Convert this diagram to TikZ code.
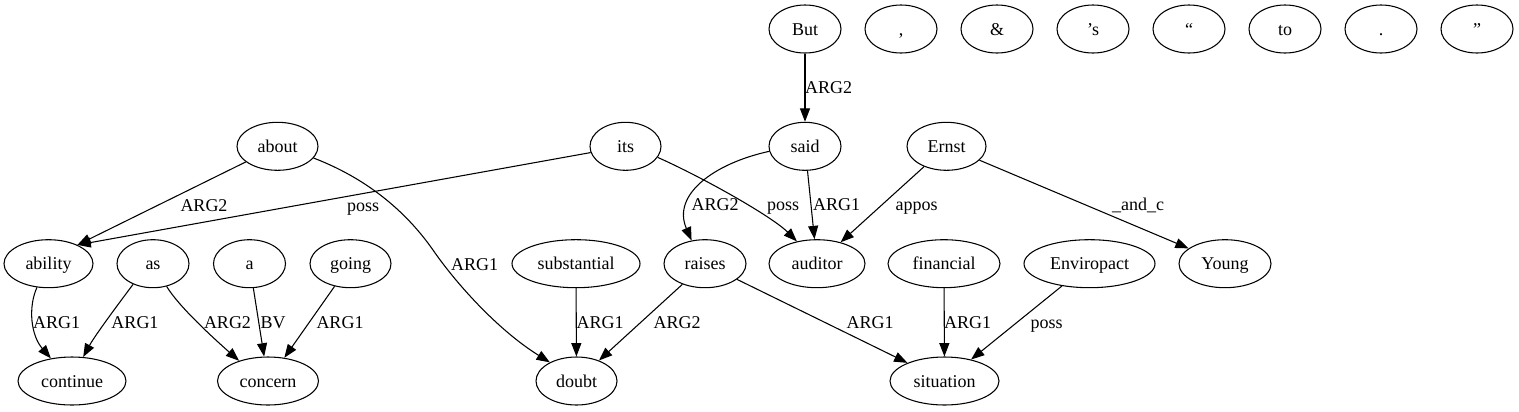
\documentclass[tikz,border=0pt]{standalone}
\usepackage{fontspec}
\setmainfont{Liberation Serif}
\usetikzlibrary{arrows.meta,shapes.geometric}
\begin{document}
\begin{tikzpicture}[x=0.75pt,y=-0.75pt,
  nd/.style={draw,ellipse,line width=0.8pt,inner sep=0pt,minimum height=36pt,
    text height=9pt,text depth=0pt,font=\fontsize{13.5}{16}\selectfont},
  wd/.style={minimum width=#1*0.75pt},
  lbl/.style={anchor=base,inner sep=0pt,font=\fontsize{13.5}{16}\selectfont},
  e/.style={draw,line width=0.8pt,-{Triangle[length=10pt,width=7.5pt]}}]
\fill[white] (0,0) rectangle (1519,411);
% row 1
\node[nd,wd=72] (But) at (805,29) {But};
\node[nd,wd=72] (comma) at (901,29) {,};
\node[nd,wd=72] (amp) at (997,29) {\&};
\node[nd,wd=72] (poss) at (1093,29) {’s};
\node[nd,wd=72] (lq) at (1189,29) {“};
\node[nd,wd=72] (to) at (1285,29) {to};
\node[nd,wd=72] (dot) at (1381,29) {.};
\node[nd,wd=72] (rq) at (1477,29) {”};
% row 2
\node[nd,wd=81] (about) at (277.5,146.3) {about};
\node[nd,wd=71] (its) at (625.5,146.3) {its};
\node[nd,wd=72] (said) at (805,146.3) {said};
\node[nd,wd=79] (Ernst) at (946.5,146.3) {Ernst};
% row 3
\node[nd,wd=89] (ability) at (48.5,263.7) {ability};
\node[nd,wd=72] (as) at (153,263.7) {as};
\node[nd,wd=72] (a) at (249.5,263.7) {a};
\node[nd,wd=81] (going) at (350.5,263.7) {going};
\node[nd,wd=128] (substantial) at (576,263.7) {substantial};
\node[nd,wd=82] (raises) at (705,263.7) {raises};
\node[nd,wd=96] (auditor) at (817,263.7) {auditor};
\node[nd,wd=112] (financial) at (944,263.7) {financial};
\node[nd,wd=131] (Enviropact) at (1089.5,263.7) {Enviropact};
\node[nd,wd=92] (Young) at (1225,263.7) {Young};
% row 4
\node[nd,wd=108] (continue) at (72,381) {continue};
\node[nd,wd=101] (concern) at (268,381) {concern};
\node[nd,wd=81] (doubt) at (576.5,381) {doubt};
\node[nd,wd=109] (situation) at (944.5,381) {situation};
% edges
\draw[e] (But) -- (said);
\draw[e] (about) -- (ability.33);
\draw[e] (its) -- (ability.33);
\coordinate (abmid) at (433,250);
\draw[e] (about.342) .. controls +(52,20) and +(-28,-40) .. (abmid)
  .. controls +(22,32) and +(-53,-33) .. (doubt.145);
\draw[e] (its.341) .. controls +(45,20) and +(-25,-25) .. (auditor.132);
\draw[e] (said.188) .. controls +(-55,12) and +(-20,-46) .. (raises.120);
\draw[e] (said) -- (auditor);
\draw[e] (Ernst) -- (auditor);
\draw[e] (Ernst) -- (Young);
\draw[e] (ability.244) .. controls +(-9,20) and +(-20,-23) .. (continue.133);
\draw[e] (as.226) .. controls +(-12,16) and +(12,-22) .. (continue.65);
\draw[e] (as.301) .. controls +(12,20) and +(-25,-22) .. (concern.145);
\draw[e] (a) -- (concern);
\draw[e] (going) -- (concern);
\draw[e] (substantial) -- (doubt);
\draw[e] (raises) -- (doubt);
\draw[e] (raises) -- (situation);
\draw[e] (financial) -- (situation);
\draw[e] (Enviropact) -- (situation);
% labels
\node[lbl] (l1) at (828.5,93) {ARG2};
\node[lbl] (l2) at (204,211) {ARG2};
\node[lbl] (l3) at (363,211) {poss};
\node[lbl] (l4) at (474.5,270) {ARG1};
\node[lbl] (l5) at (715,210) {ARG2};
\node[lbl] (l6) at (783,210) {poss};
\node[lbl] (l7) at (836.5,210) {ARG1};
\node[lbl] (l8) at (916.5,210) {appos};
\node[lbl] (l9) at (1138,210) {\_and\_c};
\node[lbl] (l10) at (56.7,328) {ARG1};
\node[lbl] (l11) at (135,328) {ARG1};
\node[lbl] (l12) at (227.5,328) {ARG2};
\node[lbl] (l13) at (273,328) {BV};
\node[lbl] (l14) at (340,328) {ARG1};
\node[lbl] (l15) at (600,328) {ARG1};
\node[lbl] (l16) at (677,328) {ARG2};
\node[lbl] (l17) at (870,328) {ARG1};
\node[lbl] (l18) at (967.5,328) {ARG1};
\node[lbl] (l19) at (1046.5,328) {poss};
\end{tikzpicture}
\end{document}
